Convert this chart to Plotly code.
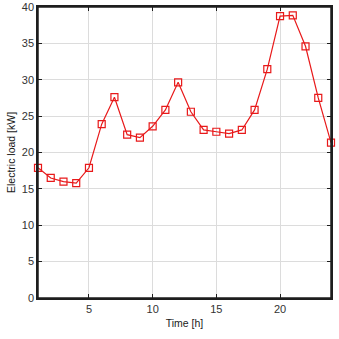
import plotly.graph_objects as go

hours = list(range(1, 25))
load_kw = [17.9, 16.5, 16.0, 15.8, 17.9, 23.9, 27.6, 22.45, 22.05, 23.6, 25.85, 29.65,
           25.6, 23.1, 22.85, 22.6, 23.1, 25.85, 31.45, 38.75, 38.85, 34.6, 27.5, 21.35]
x_ticks = [5, 10, 15, 20]
y_ticks = list(range(0, 41, 5))
x_range = [1, 24]
y_range = [0, 40]

fig = go.Figure()
# invisible helper trace so the mirrored (top/right) axes are drawn
fig.add_trace(go.Scatter(
    x=hours, y=load_kw, xaxis="x2", yaxis="y2", mode="markers",
    marker=dict(opacity=0), hoverinfo="skip", showlegend=False,
))
fig.add_trace(go.Scatter(
    x=hours, y=load_kw, mode="lines+markers",
    line=dict(color="#e8191a", width=1.2),
    marker=dict(symbol="square-open", size=7, color="#e8191a", line=dict(width=1.2)),
    showlegend=False, cliponaxis=False,
))

axis_common = dict(
    showline=True, linecolor="#1e1e1e", linewidth=1.5,
    ticks="inside", ticklen=4, tickcolor="#1e1e1e",
    tickfont=dict(family="Liberation Sans, Arial", size=11, color="#333333"),
    zeroline=False, automargin=False, ticklabeloverflow="allow",
)

title_font = dict(family="Liberation Sans, Arial", size=10.5, color="#1a1a1a")

fig.update_layout(
    width=339, height=339,
    margin=dict(l=38, r=8, t=7, b=41),
    paper_bgcolor="white", plot_bgcolor="white",
    xaxis=dict(range=x_range, tickvals=x_ticks, showgrid=True, gridcolor="#dcdcdc",
               title=dict(text="Time [h]", font=title_font, standoff=6),
               **axis_common),
    yaxis=dict(range=y_range, tickvals=y_ticks, showgrid=True, gridcolor="#dcdcdc",
               title=dict(text="Electric load [kW]", font=title_font, standoff=4),
               **axis_common),
    xaxis2=dict(range=x_range, tickvals=x_ticks, overlaying="x", side="top", anchor="y",
                showgrid=False, showticklabels=False, **axis_common),
    yaxis2=dict(range=y_range, tickvals=y_ticks, overlaying="y", side="right", anchor="x",
                showgrid=False, showticklabels=False, **axis_common),
    shapes=[dict(type="rect", xref="paper", yref="paper", x0=0, x1=1, y0=0, y1=1,
                 line=dict(color="#1e1e1e", width=1.5), layer="above")],
)

fig.write_html("out.html", config={"displayModeBar": False},
               post_script="document.body.style.margin='0';document.body.style.overflow='hidden';")
